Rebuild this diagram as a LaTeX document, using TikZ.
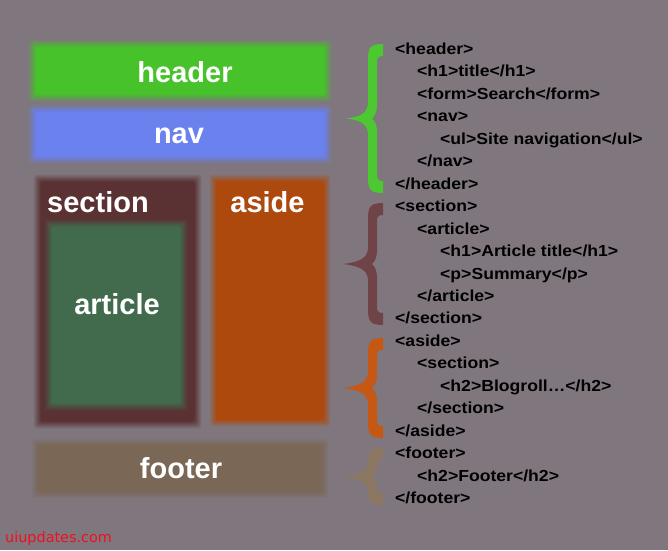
\documentclass[tikz,border=0pt]{standalone}
\usepackage{fontspec}
\setmainfont{Liberation Sans}
\newfontfamily\codefont{Liberation Sans}[FakeStretch=1.1]
\newfontfamily\markfont{DejaVu Sans}

\definecolor{bggrey}{RGB}{128,119,126}
\definecolor{hdrgreen}{RGB}{71,194,43}
\definecolor{navblue}{RGB}{106,129,238}
\definecolor{secbrown}{RGB}{91,50,52}
\definecolor{artgreen}{RGB}{66,106,77}
\definecolor{asideorange}{RGB}{174,73,14}
\definecolor{ftrtan}{RGB}{122,103,86}
\definecolor{bracegreen}{RGB}{76,200,48}
\definecolor{bracebrown}{RGB}{112,68,70}
\definecolor{braceorange}{RGB}{196,88,20}
\definecolor{bracetan}{RGB}{140,120,98}
\definecolor{markred}{RGB}{240,15,30}

\tikzset{
  area/.style={inner sep=0pt, outer sep=0pt, anchor=north west},
  boxlabel/.style={text=white, inner sep=0pt, anchor=base,
    font=\fontsize{29}{34}\selectfont\bfseries},
  code/.style={anchor=base west, inner sep=0pt, text=black,
    font=\codefont\fontsize{16}{19}\selectfont\bfseries},
}

% soft-edged fill of a named area: stacked rectangles give a linear edge ramp
\newcommand\softfill[2]{%
  \foreach \k in {1,...,8}{%
    \pgfmathsetmacro\off{4.5-\k}%
    \pgfmathsetmacro\noff{-\off}%
    \pgfmathsetmacro\alp{1/(9-\k)}%
    \fill[#2, fill opacity=\alp, rounded corners=3pt]
      ([shift={(\noff pt,\off pt)}]#1.north west) rectangle
      ([shift={(\off pt,\noff pt)}]#1.south east);
  }}

% curly brace: colour, top, bottom, tip x
\newcommand\codebrace[4]{%
  \pgfmathsetmacro\bt{#2}%
  \pgfmathsetmacro\bb{#3}%
  \pgfmathsetmacro\bm{(#2+#3)/2}%
  \pgfmathsetmacro\bh{min(16,(#3-#2)/4)}%
  \fill[#1] (383,\bt) .. controls (370,\bt) and (368,\bt+4) .. (368,\bt+\bh)
    -- (368,\bm-\bh) .. controls (368,\bm-4) and (#4+12,\bm-1.5) .. (#4,\bm)
    .. controls (#4+12,\bm+1.5) and (368,\bm+4) .. (368,\bm+\bh)
    -- (368,\bb-\bh) .. controls (368,\bb-4) and (370,\bb) .. (383,\bb)
    -- (383,\bb-12) .. controls (378,\bb-12) and (377,\bb-14) .. (377,\bb-\bh-2)
    -- (377,\bm+\bh-2) .. controls (377,\bm+5) and (374,\bm+2) .. (372,\bm)
    .. controls (374,\bm-2) and (377,\bm-5) .. (377,\bm-\bh+2)
    -- (377,\bt+\bh+2) .. controls (377,\bt+14) and (378,\bt+12) .. (383,\bt+12)
    -- cycle;}

\begin{document}
\begin{tikzpicture}[x=1pt,y=-1pt]
  \fill[bggrey] (0,0) rectangle (668,550);
  \useasboundingbox (0,0) rectangle (668,550);

  % page layout blocks
  \node[area, minimum width=296pt, minimum height=54.5pt] (header) at (32,43.5) {};
  \node[area, minimum width=296pt, minimum height=52pt] (nav) at (32,108) {};
  \node[area, minimum width=161pt, minimum height=247pt] (section) at (37,178) {};
  \node[area, minimum width=136pt, minimum height=184pt] (article) at (48,223) {};
  \node[area, minimum width=114pt, minimum height=245pt] (aside) at (213,178) {};
  \node[area, minimum width=290pt, minimum height=53pt] (footer) at (35,442) {};

  \softfill{header}{hdrgreen}
  \softfill{nav}{navblue}
  \softfill{section}{secbrown}
  \softfill{article}{artgreen}
  \softfill{aside}{asideorange}
  \softfill{footer}{ftrtan}

  \node[boxlabel] (header-label) at (185,82) {header};
  \node[boxlabel] (nav-label) at (179,143) {nav};
  \node[boxlabel] (section-label) at (98,212) {section};
  \node[boxlabel] (aside-label) at (267.5,212) {aside};
  \node[boxlabel] (article-label) at (117,314) {article};
  \node[boxlabel] (footer-label) at (181,478) {footer};

  % braces grouping the markup
  \codebrace{bracegreen}{44}{193}{346}
  \codebrace{bracebrown}{203}{325}{343}
  \codebrace{braceorange}{338}{438}{343}
  \codebrace{bracetan}{448}{505}{343}

  % markup listing
  \node[code] (c0)  at (395,54.5)   {<header>};
  \node[code] (c1)  at (417,76.95)  {<h1>title</h1>};
  \node[code] (c2)  at (417,99.4)   {<form>Search</form>};
  \node[code] (c3)  at (417,121.85) {<nav>};
  \node[code] (c4)  at (440,144.3)  {<ul>Site navigation</ul>};
  \node[code] (c5)  at (417,166.75) {</nav>};
  \node[code] (c6)  at (395,189.2)  {</header>};
  \node[code] (c7)  at (395,211.65) {<section>};
  \node[code] (c8)  at (417,234.1)  {<article>};
  \node[code] (c9)  at (440,256.55) {<h1>Article title</h1>};
  \node[code] (c10) at (440,279)    {<p>Summary</p>};
  \node[code] (c11) at (417,301.45) {</article>};
  \node[code] (c12) at (395,323.9)  {</section>};
  \node[code] (c13) at (395,346.35) {<aside>};
  \node[code] (c14) at (417,368.8)  {<section>};
  \node[code] (c15) at (440,391.25) {<h2>Blogroll…</h2>};
  \node[code] (c16) at (417,413.7)  {</section>};
  \node[code] (c17) at (395,436.15) {</aside>};
  \node[code] (c18) at (395,458.6)  {<footer>};
  \node[code] (c19) at (417,481.05) {<h2>Footer</h2>};
  \node[code] (c20) at (395,503.5)  {</footer>};

  \node[anchor=base west, inner sep=0pt, text=markred,
        font=\markfont\fontsize{14.4}{17}\selectfont] (site) at (5,542) {uiupdates.com};
\end{tikzpicture}
\end{document}
